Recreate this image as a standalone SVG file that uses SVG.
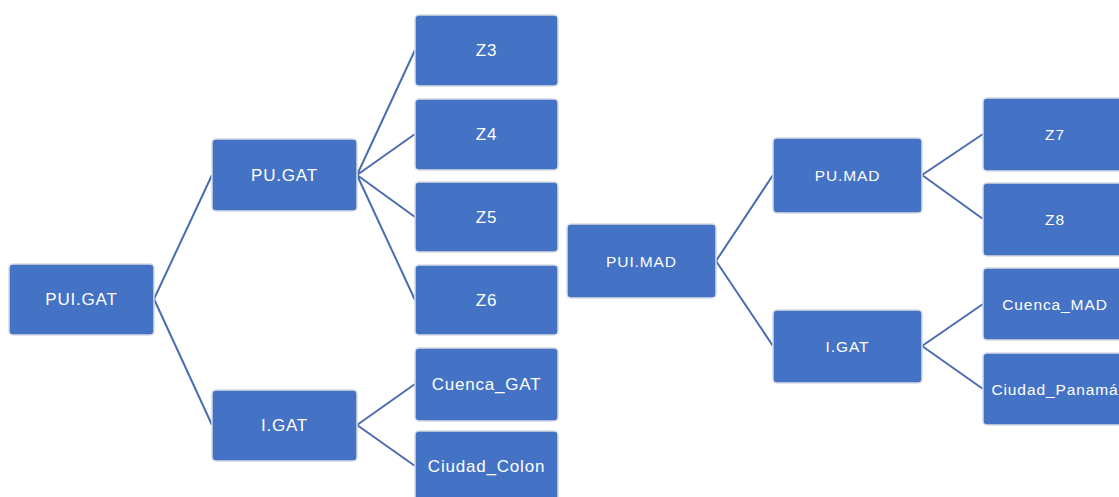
<svg xmlns="http://www.w3.org/2000/svg" width="1119" height="497" viewBox="0 0 1119 497">
<style>
.b{fill:#4472C4;stroke:#d6dbe4;stroke-width:1.5}
.t{fill:#ffffff;font-family:"Liberation Sans",Arial,sans-serif;font-size:17px;text-anchor:middle;dominant-baseline:central;letter-spacing:0.8px}
.s{font-size:15.5px;letter-spacing:0.9px}
.c{fill:none;stroke:#4a6cb0;stroke-width:2}
</style>
<rect width="1119" height="497" fill="#ffffff"/>
<g id="connectors" class="c">
<path d="M154 299L212 175M154 299L212 425"/>
<path d="M357 175L415 50M357 175L415 134M357 175L415 217M357 175L415 300"/>
<path d="M357 425L415 384M357 425L415 466"/>
<path d="M716 261L773 175M716 261L773 346"/>
<path d="M922 175L983 134M922 175L983 219"/>
<path d="M922 346L983 304M922 346L983 389"/>
</g>
<g id="n-pui-gat"><rect class="b" x="9" y="264" width="145" height="71" rx="4"/><text class="t" x="81.5" y="299.5">PUI.GAT</text></g>
<g id="n-pu-gat"><rect class="b" x="212" y="139" width="145" height="72" rx="4"/><text class="t" x="284.5" y="175">PU.GAT</text></g>
<g id="n-i-gat-l"><rect class="b" x="212" y="390" width="145" height="71" rx="4"/><text class="t" x="284.5" y="425.5">I.GAT</text></g>
<g id="n-z3"><rect class="b" x="415" y="15" width="143" height="71" rx="4"/><text class="t" x="486.5" y="50.5">Z3</text></g>
<g id="n-z4"><rect class="b" x="415" y="99" width="143" height="71" rx="4"/><text class="t" x="486.5" y="134.5">Z4</text></g>
<g id="n-z5"><rect class="b" x="415" y="182" width="143" height="70" rx="4"/><text class="t" x="486.5" y="217">Z5</text></g>
<g id="n-z6"><rect class="b" x="415" y="265" width="143" height="70" rx="4"/><text class="t" x="486.5" y="300">Z6</text></g>
<g id="n-cuenca-gat"><rect class="b" x="415" y="348" width="143" height="73" rx="4"/><text class="t" x="486.5" y="384.5">Cuenca_GAT</text></g>
<g id="n-ciudad-colon"><rect class="b" x="415" y="431" width="143" height="72" rx="4"/><text class="t" x="486.5" y="466.5">Ciudad_Colon</text></g>
<g id="n-pui-mad"><rect class="b" x="567" y="224" width="149" height="74" rx="4"/><text class="t s" x="641.5" y="261">PUI.MAD</text></g>
<g id="n-pu-mad"><rect class="b" x="773" y="138" width="149" height="75" rx="4"/><text class="t s" x="847.5" y="175.5">PU.MAD</text></g>
<g id="n-i-gat-r"><rect class="b" x="773" y="310" width="149" height="73" rx="4"/><text class="t s" x="847.5" y="346.5">I.GAT</text></g>
<g id="n-z7"><rect class="b" x="983" y="98" width="145" height="73" rx="4"/><text class="t s" x="1055" y="134.5">Z7</text></g>
<g id="n-z8"><rect class="b" x="983" y="183" width="145" height="73" rx="4"/><text class="t s" x="1055" y="219.5">Z8</text></g>
<g id="n-cuenca-mad"><rect class="b" x="983" y="268" width="145" height="72" rx="4"/><text class="t s" x="1055" y="304">Cuenca_MAD</text></g>
<g id="n-ciudad-panama"><rect class="b" x="983" y="353" width="145" height="72" rx="4"/><text class="t s" x="1055" y="389">Ciudad_Panamá</text></g>
</svg>
